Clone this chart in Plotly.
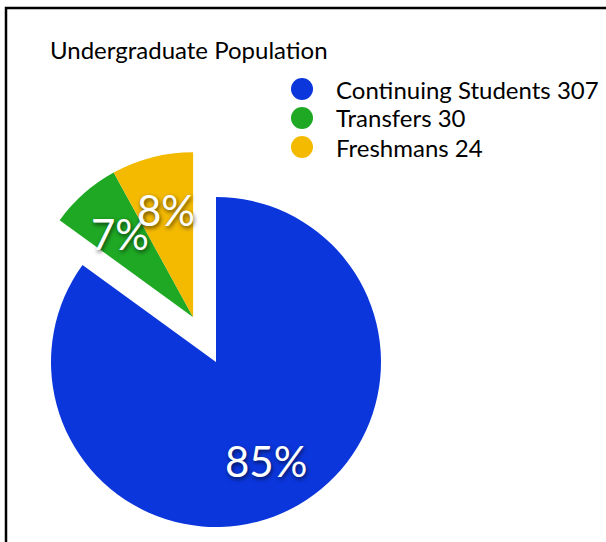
import math
import plotly.graph_objects as go

# ---- data ----
categories = ["Continuing Students", "Transfers", "Freshmans"]
counts = [307, 30, 24]
shares = [85, 7, 8]            # slice sizes / labels as printed on the chart (%)
colors = ["#0b36dc", "#1fa824", "#f4ba00"]
pulled = [False, True, True]   # green + yellow wedge pulled out together
title_text = "Undergraduate Population"

# ---- layout constants (pixels) ----
W, H = 606, 542
R = 165                 # pie radius
CX, CY = 216, 362       # pie centre (from top-left)
PULL = 0.305            # pull distance as a fraction of radius
LABEL_R = 0.67          # label distance as fraction of radius
FONT = "Lato"

total = sum(shares)
fracs = [s / total for s in shares]
starts = [sum(fracs[:i]) for i in range(len(fracs))]

# direction of the pulled group (clockwise from 12 o'clock)
g_start = min(starts[i] for i in range(len(fracs)) if pulled[i])
g_end = max(starts[i] + fracs[i] for i in range(len(fracs)) if pulled[i])
g_theta = math.radians((g_start + g_end) / 2 * 360)
PX = CX + PULL * R * math.sin(g_theta)
PY = CY - PULL * R * math.cos(g_theta)


def domain(cx, cy):
    return dict(x=[(cx - R) / W, (cx + R) / W],
                y=[(H - cy - R) / H, (H - cy + R) / H])


def pie(show, centre):
    return go.Pie(
        labels=categories, values=shares, sort=False,
        direction="clockwise", rotation=0,
        marker=dict(colors=[c if s else "rgba(0,0,0,0)" for c, s in zip(colors, show)],
                    line=dict(width=0)),
        textinfo="none", hoverinfo="skip", showlegend=False,
        domain=domain(*centre),
    )


fig = go.Figure()
fig.add_trace(pie([not p for p in pulled], (CX, CY)))
fig.add_trace(pie(pulled, (PX, PY)))

annotations = []
# percentage labels
for i, f in enumerate(fracs):
    th = math.radians((starts[i] + f / 2) * 360)
    cx, cy = (PX, PY) if pulled[i] else (CX, CY)
    x = cx + LABEL_R * R * math.sin(th)
    y = cy - LABEL_R * R * math.cos(th)
    annotations.append(dict(
        x=x / W, y=1 - y / H, xref="paper", yref="paper",
        text=f"{shares[i]}%", showarrow=False, xanchor="center", yanchor="middle",
        font=dict(family=FONT, size=42, color="white",
                  shadow="1px 2px 4px rgba(0,0,0,0.65)"),
    ))

# title
annotations.append(dict(
    x=48 / W, y=1 - 50 / H, xref="paper", yref="paper", text=title_text,
    showarrow=False, xanchor="left", yanchor="middle",
    font=dict(family=FONT, size=24, color="black"),
))

# legend (circles + text)
shapes = []
LEG_X, LEG_Y0, LEG_DY, LEG_R = 302, 89, 29, 11
for i, (name, n, c) in enumerate(zip(categories, counts, colors)):
    yy = LEG_Y0 + i * LEG_DY
    shapes.append(dict(type="circle", xref="paper", yref="paper",
                       x0=(LEG_X - LEG_R) / W, x1=(LEG_X + LEG_R) / W,
                       y0=1 - (yy + LEG_R) / H, y1=1 - (yy - LEG_R) / H,
                       fillcolor=c, line=dict(width=0)))
    annotations.append(dict(
        x=334 / W, y=1 - yy / H, xref="paper", yref="paper", text=f"{name} {n}",
        showarrow=False, xanchor="left", yanchor="middle",
        font=dict(family=FONT, size=24, color="black"),
    ))

# frame (left and top edges)
shapes.append(dict(type="path", xref="paper", yref="paper",
                   path=f"M {6/W} 0 L {6/W} {1-8/H} L 1 {1-8/H}",
                   line=dict(color="black", width=2.5)))

fig.update_layout(
    width=W, height=H, margin=dict(l=0, r=0, t=0, b=0),
    paper_bgcolor="white", plot_bgcolor="white",
    annotations=annotations, shapes=shapes, showlegend=False,
)

fig.write_html("out.html", config={"displayModeBar": False},
               post_script="document.body.style.margin='0';document.body.style.overflow='hidden';")
